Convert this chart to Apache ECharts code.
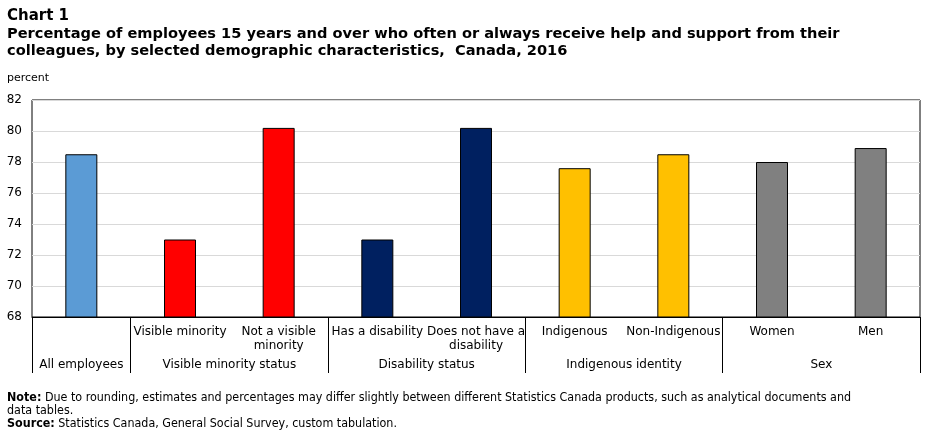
<!DOCTYPE html>
<html>
<head>
<meta charset="utf-8">
<script src="https://cdn.jsdelivr.net/npm/echarts@6/dist/echarts.min.js"></script>
<style>
html,body{margin:0;padding:0;background:#fff;}
#c{width:930px;height:435px;}
</style>
</head>
<body>
<div id="c"></div>
<script>
var categories = ['All employees', 'Visible minority', 'Not a visible\nminority', 'Has a disability', 'Does not have a\ndisability', 'Indigenous', 'Non-Indigenous', 'Women', 'Men'];
var values = [78.5, 73.0, 80.2, 73.0, 80.2, 77.6, 78.5, 78.0, 78.9];
var barColors = ['#5b9bd5', '#ff0000', '#ff0000', '#002060', '#002060', '#ffc000', '#ffc000', '#808080', '#808080'];
var groupNames = ['All employees', 'Visible minority status', 'Disability status', 'Indigenous identity', 'Sex'];
var groupCenters = [0.5, 2, 4, 6, 8];
var groupBounds = [0, 1, 3, 5, 7, 9];
var yTicks = { min: 68, max: 82, interval: 2 };

var font = '"DejaVu Sans", Verdana, sans-serif';
var noteFont = '"DejaVu Sans Condensed", "DejaVu Sans", sans-serif';
var chart = echarts.init(document.getElementById('c'), null, { renderer: 'canvas' });

var catLabels = categories.slice();
catLabels[0] = '';

chart.setOption({
  animation: false,
  title: [{
    text: 'Chart 1',
    left: 7, top: 9, padding: 0,
    textStyle: { fontFamily: font, fontSize: 15, fontWeight: 'bold', color: '#000' }
  }, {
    text: 'Percentage of employees 15 years and over who often or always receive help and support from their\ncolleagues, by selected demographic characteristics,  Canada, 2016',
    left: 7, top: 26, padding: 0,
    textStyle: { fontFamily: font, fontSize: 14.6, fontWeight: 'bold', color: '#000', lineHeight: 17 }
  }, {
    text: 'percent',
    left: 7, top: 73, padding: 0,
    textStyle: { fontFamily: font, fontSize: 11, fontWeight: 'normal', color: '#000' }
  }, {
    text: '{b|Note:} Due to rounding, estimates and percentages may differ slightly between different Statistics Canada products, such as analytical documents and\ndata tables.\n{b|Source:} Statistics Canada, General Social Survey, custom tabulation.',
    left: 7, top: 391, padding: 0,
    textStyle: {
      fontFamily: noteFont, fontSize: 12.4, fontWeight: 'normal', color: '#000', lineHeight: 13,
      rich: { b: { fontFamily: noteFont, fontSize: 12.4, fontWeight: 'bold', color: '#000', lineHeight: 13 } }
    }
  }],
  grid: {
    left: 32, right: 10, top: 100, bottom: 118,
    show: true, borderColor: '#000', borderWidth: 1, backgroundColor: 'transparent'
  },
  xAxis: [{
    type: 'category',
    data: catLabels,
    position: 'bottom',
    axisLine: { show: true, lineStyle: { color: '#000', width: 1 } },
    axisTick: { show: false },
    axisLabel: {
      interval: 0, margin: 8, color: '#000',
      fontFamily: font, fontSize: 12, lineHeight: 14
    },
    splitLine: { show: false }
  }, {
    type: 'value',
    min: 0, max: 9,
    position: 'bottom',
    axisLine: { show: false },
    splitLine: { show: false },
    axisTick: {
      show: true, inside: false, length: 56,
      customValues: groupBounds,
      lineStyle: { color: '#000', width: 1 }
    },
    axisLabel: {
      show: true, margin: 42, color: '#000',
      fontFamily: font, fontSize: 12,
      customValues: groupCenters,
      formatter: function (v) {
        var i = groupCenters.indexOf(v);
        return i >= 0 ? groupNames[i] : '';
      }
    }
  }],
  yAxis: {
    type: 'value',
    min: yTicks.min, max: yTicks.max, interval: yTicks.interval,
    axisLine: { show: false },
    axisTick: { show: false },
    axisLabel: { color: '#000', fontFamily: font, fontSize: 12, margin: 10 },
    splitLine: { show: true, lineStyle: { color: '#d9d9d9', width: 1 } }
  },
  series: [{
    type: 'bar',
    xAxisIndex: 0,
    barWidth: 32,
    data: values.map(function (v, i) {
      return { value: v, itemStyle: { color: barColors[i], borderColor: '#000', borderWidth: 1 } };
    })
  }]
});
</script>
</body>
</html>
